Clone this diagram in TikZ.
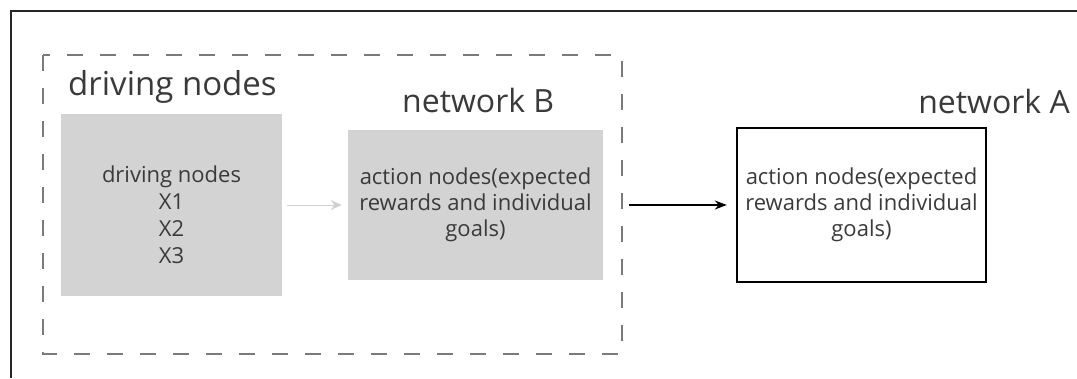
\documentclass[tikz,border=0pt]{standalone}
\usepackage{fontspec}
\setmainfont{Open Sans}
\usetikzlibrary{arrows.meta}
\definecolor{txt}{HTML}{3A3A3A}
\definecolor{boxgray}{HTML}{D3D3D3}
\definecolor{dashgray}{HTML}{7A7A7A}
\tikzset{
  blocktext/.style={text=txt, align=center, font=\fontsize{22}{26}\selectfont},
  grayblock/.style={blocktext, fill=boxgray, draw=none, inner sep=0pt},
  outlineblock/.style={blocktext, draw=black, line width=2.4pt, inner sep=0pt},
  title/.style={text=txt, inner sep=0pt, anchor=base},
  groupframe/.style={draw=dashgray, line width=2pt, dash pattern=on 16pt off 17pt},
}
\begin{document}
\begin{tikzpicture}[x=1pt,y=-1pt]
\useasboundingbox (0,0) rectangle (1077,378);
% outer frame, running past the page edges
\draw[line width=2pt, color=black!85] (11,378) -- (11,11) -- (1077,11);
% dashed group for network B
\draw[groupframe] (43,55) rectangle (622,354);
% driving nodes block
\node[grayblock, minimum width=221pt, minimum height=182pt] (drv) at (171.5,205) {};
\node[blocktext, font=\fontsize{22}{27}\selectfont, inner sep=0pt] (drvtxt) at (171.5,215)
  {driving nodes\\X1\\X2\\X3};
\node[title, font=\fontsize{33}{36}\selectfont, anchor=base west] (drvt) at (68,95) {driving nodes};
% network B block
\node[grayblock, minimum width=255pt, minimum height=150pt] (actB) at (475.5,205)
  {action nodes(expected\\rewards and individual\\goals)};
\node[title, font=\fontsize{32}{35}\selectfont, anchor=base west] (netB) at (402,112) {network B};
% network A block
\node[outlineblock, minimum width=249pt, minimum height=154pt] (actA) at (861.5,205)
  {action nodes(expected\\rewards and individual\\goals)};
\node[title, font=\fontsize{32}{35}\selectfont, anchor=base east] (netA) at (1070,113) {network A};
% connectors
\coordinate (gB) at (629,205);
\draw[-{Stealth[length=11pt,width=10pt]}, draw=black!18, line width=1pt]
  ([xshift=5pt]drv.east) -- ([xshift=-6pt]actB.west);
\draw[-{Stealth[length=12pt,width=9pt]}, line width=1.3pt] (gB) -- ([xshift=-9pt]actA.west |- gB);
\end{tikzpicture}
\end{document}
